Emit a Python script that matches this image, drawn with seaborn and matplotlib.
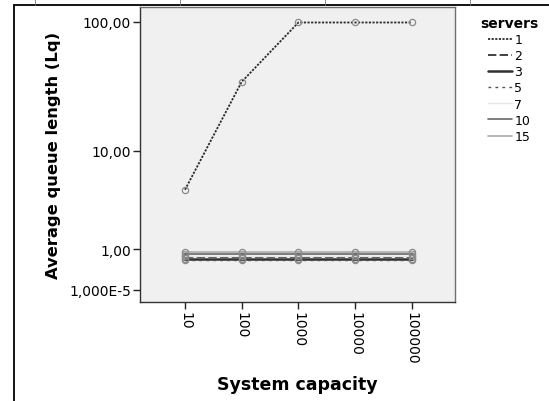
import numpy as np
import pandas as pd
import matplotlib
matplotlib.use("Agg")
import matplotlib.pyplot as plt
from matplotlib.lines import Line2D
import seaborn as sns

# ---- data ----
capacities = ["10", "100", "1000", "10000", "100000"]
servers = ["1", "2", "3", "5", "7", "10", "15"]
lq_1 = [4.6, 35.0, 99.0, 99.0, 99.0]
lq_2 = [0.75, 0.75, 0.75, 0.75, 0.75]
lq_3 = [0.70, 0.70, 0.70, 0.70, 0.70]
lq_5 = [0.68, 0.68, 0.68, 0.68, 0.68]
lq_7 = [0.80, 0.80, 0.80, 0.80, 0.80]
lq_10 = [0.86, 0.86, 0.86, 0.86, 0.86]
lq_15 = [0.90, 0.90, 0.90, 0.90, 0.90]
y_ticks = [1e-5, 1.0, 10.0, 100.0]
y_ticklabels = ["1,000E-5", "1,00", "10,00", "100,00"]

series = dict(zip(servers, [lq_1, lq_2, lq_3, lq_5, lq_7, lq_10, lq_15]))
rows = []
for s in servers:
    for c, v in zip(capacities, series[s]):
        rows.append({"servers": s, "capacity": c, "Lq": v})
df = pd.DataFrame(rows)

# ---- styles ----
palette = {"1": "#2a2a2a", "2": "#202020", "3": "#303030", "5": "#505050",
           "7": "#e6e6e6", "10": "#686868", "15": "#ababab"}
dashes = {"1": (1.2, 0.8), "2": (5, 2), "3": "", "5": (2, 3),
          "7": "", "10": "", "15": ""}
widths = {"1": 1.3, "2": 1.2, "3": 1.8, "5": 1.0, "7": 1.0, "10": 1.2, "15": 1.2}
markers = {s: "o" for s in servers}

sns.set_style("white")
plt.rcParams["font.family"] = ["DejaVu Sans"]
plt.rcParams["text.color"] = "black"
plt.rcParams["axes.labelcolor"] = "black"
plt.rcParams["xtick.color"] = "black"
plt.rcParams["ytick.color"] = "black"

fig = plt.figure(figsize=(5.49, 4.02), dpi=100)
ax = fig.add_axes([140 / 549, 1 - 303 / 402, (455 - 140) / 549, (303 - 8) / 402])
ax.set_facecolor("#f0f0f0")


def fwd(x):
    x = np.asarray(x, dtype=float)
    return np.sign(x) * np.log10(1 + np.abs(x))


def inv(y):
    y = np.asarray(y, dtype=float)
    return np.sign(y) * (10 ** np.abs(y) - 1)


ax.set_yscale("function", functions=(fwd, inv))

sns.lineplot(data=df, x="capacity", y="Lq", hue="servers", style="servers",
             size="servers", palette=palette, dashes=dashes, sizes=widths,
             markers=markers, markersize=4.5, markeredgecolor="#8a8a8a",
             markerfacecolor="none", markeredgewidth=0.9, legend=False,
             ax=ax, sort=False)

ax.set_xlim(-0.794, 4.762)
ax.set_ylim(-0.236, 129.6)
ax.set_yticks(y_ticks)
ax.set_yticklabels(y_ticklabels)
ax.set_xticks(range(len(capacities)))
ax.set_xticklabels(capacities, rotation=-90)
ax.minorticks_off()
ax.tick_params(axis="both", which="major", length=5, width=1, color="#222222",
               labelsize=10, pad=1.5, left=True, bottom=True, labelcolor="black")
for sp in ax.spines.values():
    sp.set_color("#707070")
    sp.set_linewidth(1)
ax.spines["left"].set_color("#333333")
ax.spines["bottom"].set_color("#333333")

ax.set_xlabel("System capacity", fontsize=12.5, fontweight="bold", labelpad=8,
              color="black")
ax.set_ylabel("Average queue length (Lq)", fontsize=11.8, fontweight="bold",
              labelpad=6, color="black")

# ---- legend ----
handles = []
for s in servers:
    d = dashes[s]
    ls = "-" if d == "" else (0, d)
    handles.append(Line2D([0], [0], color=palette[s], lw=widths[s], linestyle=ls))
leg = fig.legend(handles, servers, title="servers", loc="upper left",
                 bbox_to_anchor=(480 / 549, 1 - 17 / 402), frameon=False,
                 fontsize=9, handlelength=1.9, handletextpad=0.2,
                 labelspacing=0.25, borderaxespad=0, borderpad=0,
                 alignment="center")
leg.get_title().set_fontweight("bold")
leg.get_title().set_fontsize(10)
leg.get_title().set_color("black")
for t in leg.get_texts():
    t.set_color("black")

# ---- page frame lines ----
fig.add_artist(Line2D([14 / 549, 14 / 549], [0, 1 - 5.7 / 402], color="black", lw=1.3,
                      transform=fig.transFigure))
fig.add_artist(Line2D([14 / 549, 1], [1 - 5.7 / 402, 1 - 5.7 / 402], color="black",
                      lw=1.3, transform=fig.transFigure))
for xp in [35, 180, 325, 470]:
    fig.add_artist(Line2D([xp / 549, xp / 549], [1, 1 - 5.7 / 402], color="#777777",
                          lw=0.6, transform=fig.transFigure))

fig.savefig("out.png", dpi=100)
